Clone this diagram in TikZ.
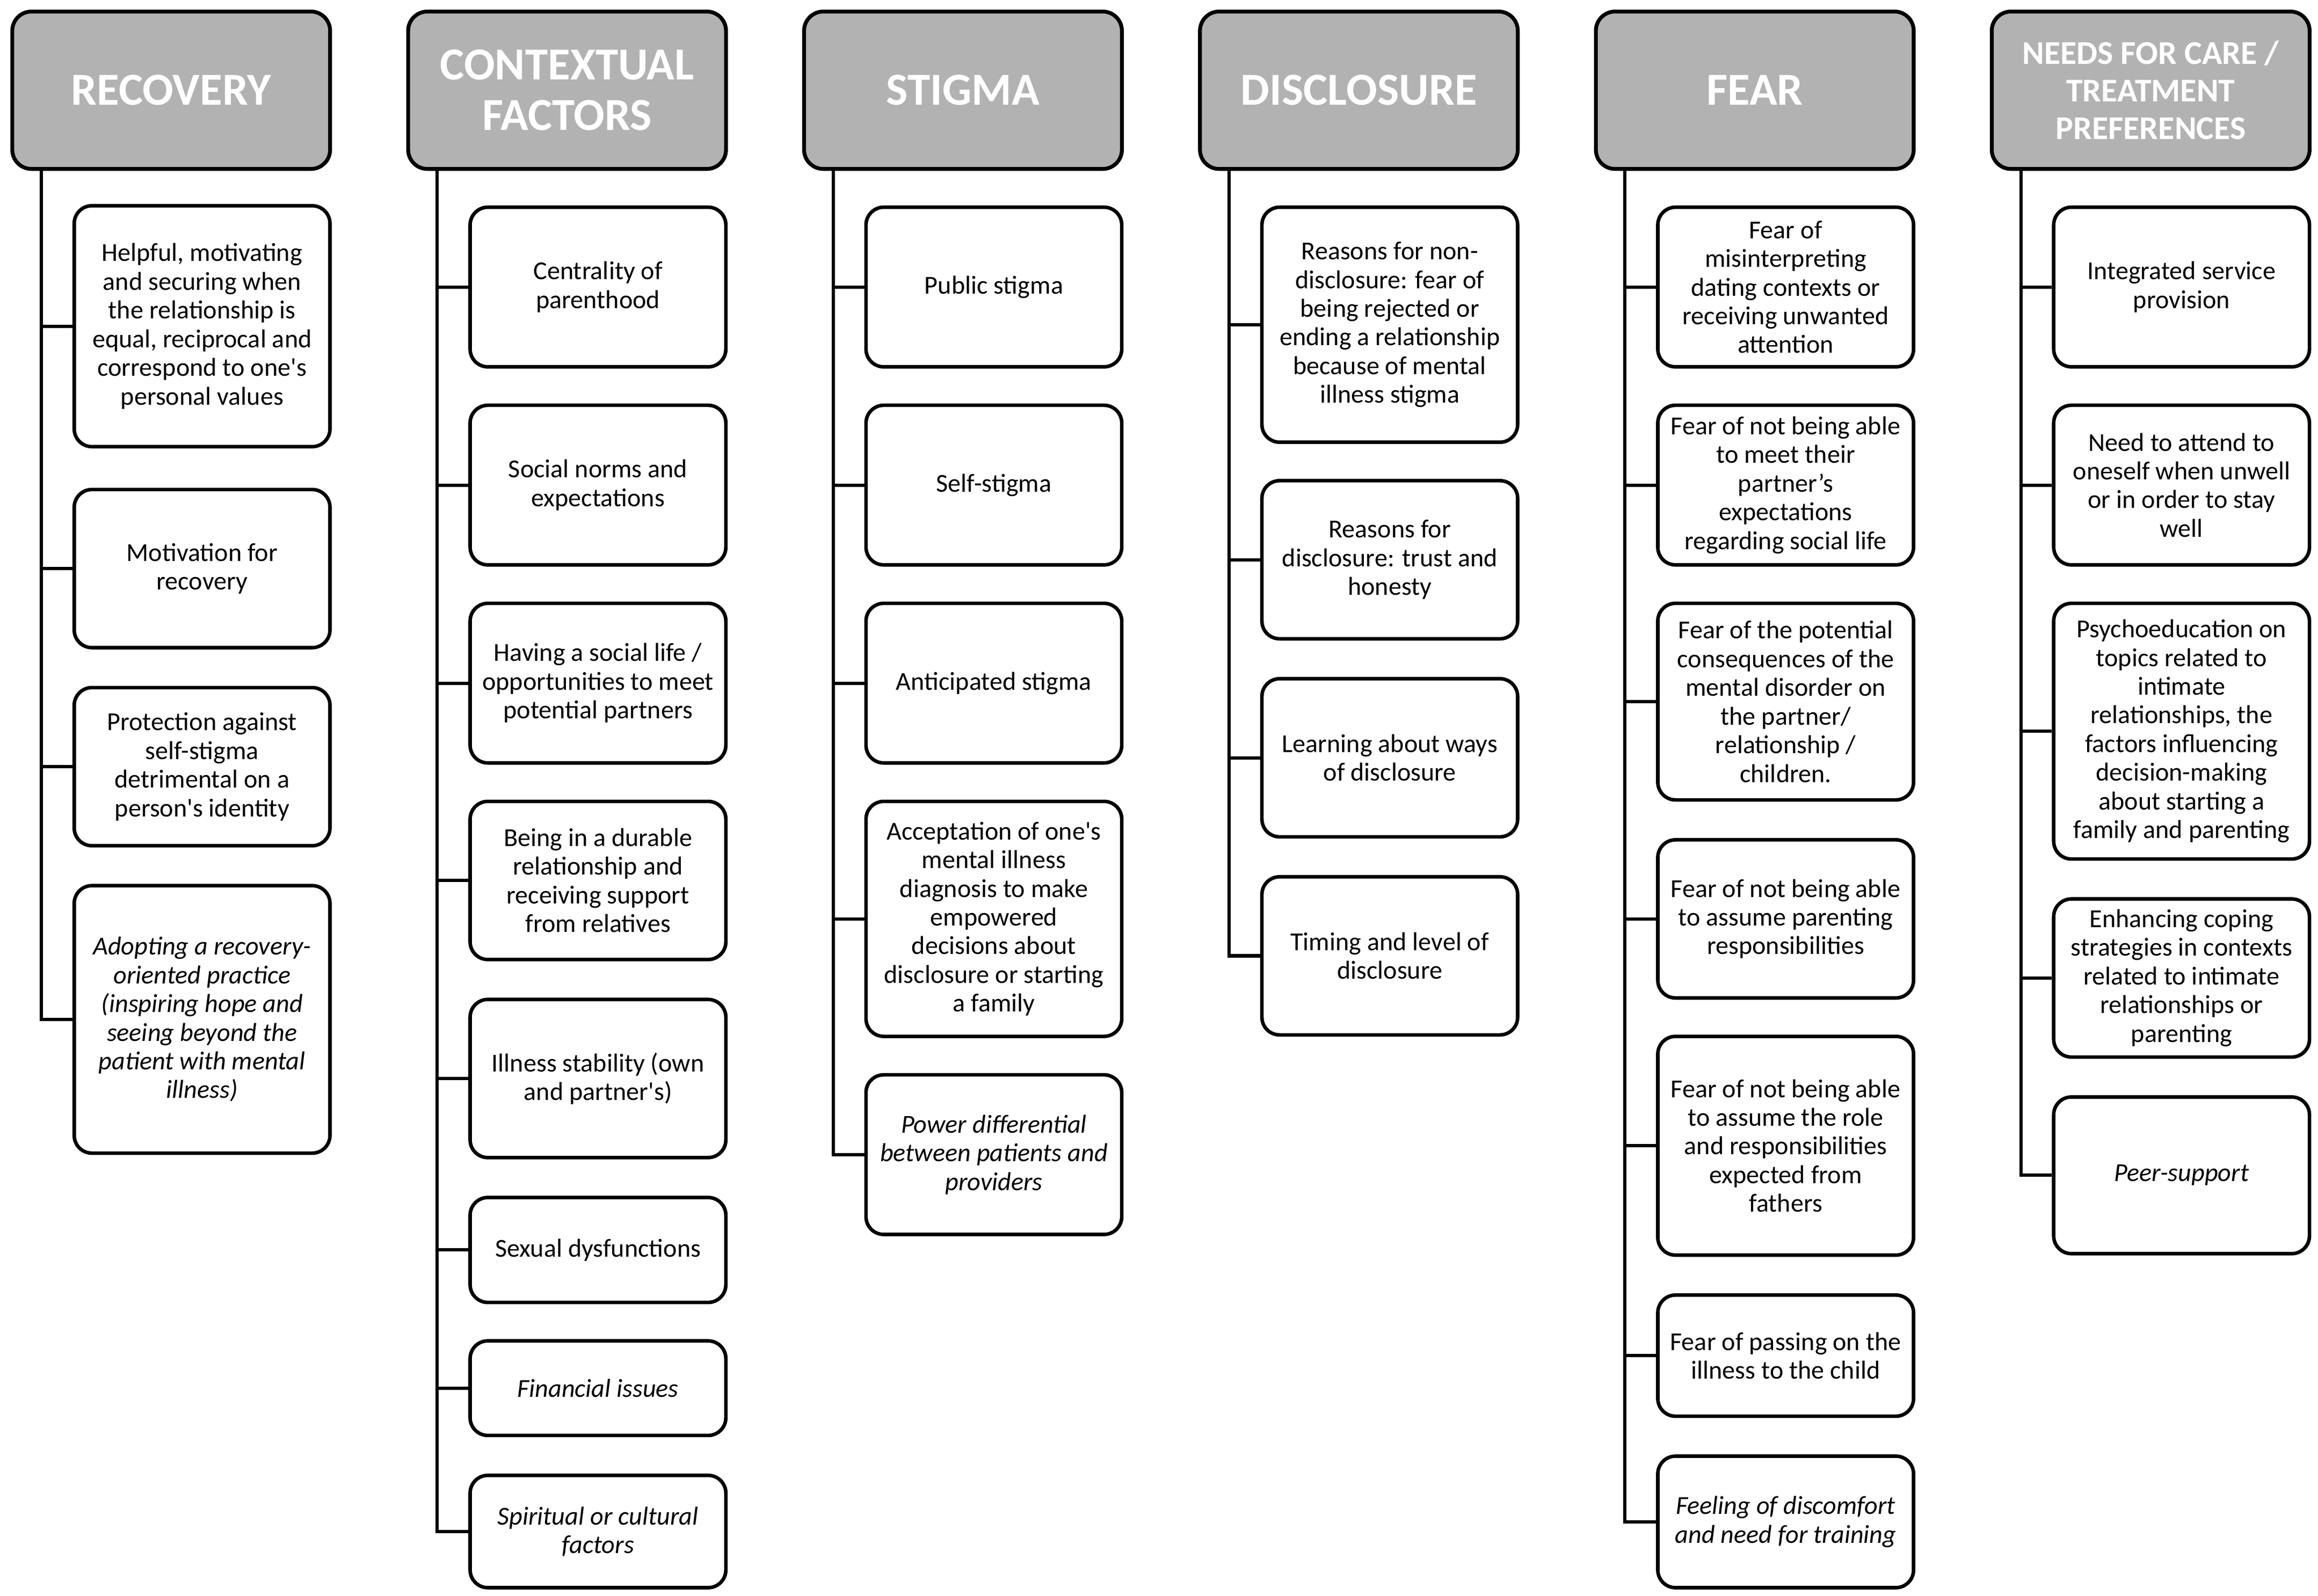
\documentclass[tikz,border=0pt]{standalone}
\usepackage{fontspec}
\setmainfont{Carlito}
\definecolor{hdrgray}{RGB}{178,178,178}
\tikzset{
  hdr/.style={draw=black, line width=2.6pt, fill=hdrgray, rounded corners=13pt,
    minimum width=215pt, minimum height=106.5pt, anchor=north west, text=white,
    font=\bfseries\fontsize{31}{34}\selectfont, align=center, inner sep=0pt},
  hdrsmall/.style={hdr, font=\bfseries\fontsize{22.5}{25.5}\selectfont},
  item/.style={draw=black, line width=2.4pt, rounded corners=12pt, fill=white,
    minimum width=173pt, anchor=north west, align=center, inner sep=0pt,
    font=\fontsize{17.5}{19.4}\selectfont},
  itl/.style={item, font=\itshape\fontsize{17.5}{19.4}\selectfont},
  link/.style={line width=2.2pt, draw=black},
}
% #1 style, #2 name, #3 column x0, #4 top, #5 bottom, #6 text
\newcommand\itembox[6][item]{%
  \node[#1, minimum height={#5pt-#4pt}] (#2) at ({#3+42},#4) {#6};}
\begin{document}
\begin{tikzpicture}[x=1pt,y=-1pt]
\useasboundingbox (0,0) rectangle (1568,1079.5);
\fill[white] (0,0) rectangle (1568,1079.5);

% ---------- column 1 : RECOVERY ----------
\node[hdr] (h1) at (7,6.5) {RECOVERY};
\itembox{r1}{7}{138}{301}{Helpful, motivating\\and securing when\\the relationship is\\equal, reciprocal and\\correspond to one\textquotesingle s\\personal values}
\itembox{r2}{7}{330}{437}{Motivation for\\recovery}
\itembox{r3}{7}{464}{571}{Protection against\\self-stigma\\detrimental on a\\person\textquotesingle s identity}
\itembox[itl]{r4}{7}{598}{779}{Adopting a recovery-\\oriented practice\\(inspiring hope and\\seeing beyond the\\patient with mental\\illness)}

% ---------- column 2 : CONTEXTUAL FACTORS ----------
\node[hdr] (h2) at (274.8,6.5) {CONTEXTUAL\\FACTORS};
\itembox{c1}{274.8}{139}{247}{Centrality of\\parenthood}
\itembox{c2}{274.8}{273}{381}{Social norms and\\expectations}
\itembox{c3}{274.8}{407}{515}{Having a social life /\\opportunities to meet\\potential partners}
\itembox{c4}{274.8}{541}{648}{Being in a durable\\relationship and\\receiving support\\from relatives}
\itembox{c5}{274.8}{675}{782}{Illness stability (own\\and partner\textquotesingle s)}
\itembox{c6}{274.8}{809}{880}{Sexual dysfunctions}
\itembox[itl]{c7}{274.8}{906}{970}{Financial issues}
\itembox[itl]{c8}{274.8}{997}{1073}{Spiritual or cultural\\factors}

% ---------- column 3 : STIGMA ----------
\node[hdr] (h3) at (542.6,6.5) {STIGMA};
\itembox{s1}{542.6}{139}{247}{Public stigma}
\itembox{s2}{542.6}{273}{381}{Self-stigma}
\itembox{s3}{542.6}{407}{515}{Anticipated stigma}
\itembox{s4}{542.6}{541}{700}{Acceptation of one\textquotesingle s\\mental illness\\diagnosis to make\\empowered\\decisions about\\disclosure or starting\\a family}
\itembox[itl]{s5}{542.6}{726}{834}{Power differential\\between patients and\\providers}

% ---------- column 4 : DISCLOSURE ----------
\node[hdr] (h4) at (810.4,6.5) {DISCLOSURE};
\itembox{d1}{810.4}{139}{298}{Reasons for non-\\disclosure: fear of\\being rejected or\\ending a relationship\\because of mental\\illness stigma}
\itembox{d2}{810.4}{324}{431}{Reasons for\\disclosure: trust and\\honesty}
\itembox{d3}{810.4}{458}{565}{Learning about ways\\of disclosure}
\itembox{d4}{810.4}{592}{699}{Timing and level of\\disclosure}

% ---------- column 5 : FEAR ----------
\node[hdr] (h5) at (1078.2,6.5) {FEAR};
\itembox{f1}{1078.2}{139}{247}{Fear of\\misinterpreting\\dating contexts or\\receiving unwanted\\attention}
\itembox{f2}{1078.2}{273}{381}{Fear of not being able\\to meet their\\partner’s\\expectations\\regarding social life}
\itembox{f3}{1078.2}{407}{540}{Fear of the potential\\consequences of the\\mental disorder on\\the partner/\\relationship /\\children.}
\itembox{f4}{1078.2}{567}{674}{Fear of not being able\\to assume parenting\\responsibilities}
\itembox{f5}{1078.2}{700}{848}{Fear of not being able\\to assume the role\\and responsibilities\\expected from\\fathers}
\itembox{f6}{1078.2}{875}{957}{Fear of passing on the\\illness to the child}
\itembox[itl]{f7}{1078.2}{984}{1073}{Feeling of discomfort\\and need for training}

% ---------- column 6 : NEEDS ----------
\node[hdrsmall] (h6) at (1346,6.5) {NEEDS FOR CARE /\\TREATMENT\\PREFERENCES};
\itembox{n1}{1346}{139}{247}{Integrated service\\provision}
\itembox{n2}{1346}{273}{381}{Need to attend to\\oneself when unwell\\or in order to stay\\well}
\itembox{n3}{1346}{407}{580}{Psychoeducation on\\topics related to\\intimate\\relationships, the\\factors influencing\\decision-making\\about starting a\\family and parenting}
\itembox{n4}{1346}{607}{714}{Enhancing coping\\strategies in contexts\\related to intimate\\relationships or\\parenting}
\itembox[itl]{n5}{1346}{741}{847}{Peer-support}

% ---------- connectors ----------
\foreach \h/\last/\others in {h1/r4/{r1,r2,r3}, h2/c8/{c1,c2,c3,c4,c5,c6,c7}, h3/s5/{s1,s2,s3,s4}, h4/d4/{d1,d2,d3}, h5/f7/{f1,f2,f3,f4,f5,f6}, h6/n5/{n1,n2,n3,n4}}{
  \coordinate (t) at ([xshift=21pt]\h.south west);
  \draw[link] (t) |- (\last.west);
  \foreach \b in \others { \draw[link] (t |- \b.west) -- (\b.west); }
}
\end{tikzpicture}
\end{document}
